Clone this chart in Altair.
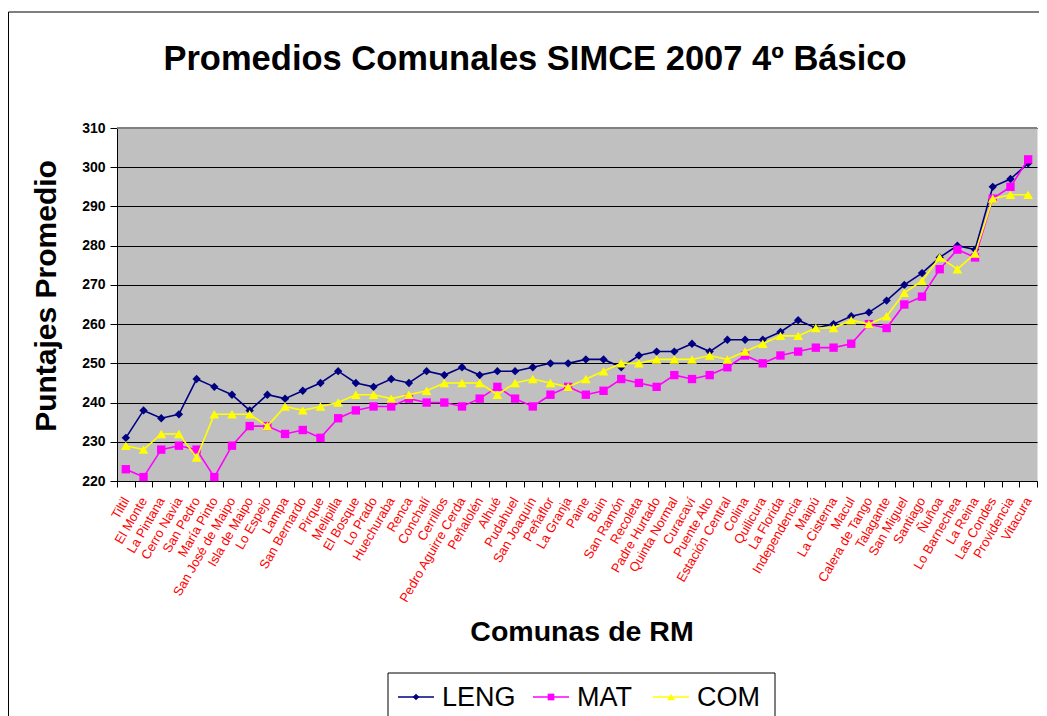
import altair as alt
import pandas as pd

comunas = ["Tiltil", "El Monte", "La Pintana", "Cerro Navia", "San Pedro", "María Pinto",
           "San José de Maipo", "Isla de Maipo", "Lo Espejo", "Lampa", "San Bernardo", "Pirque",
           "Melipilla", "El Bosque", "Lo Prado", "Huechuraba", "Renca", "Conchalí", "Cerrillos",
           "Pedro Aguirre Cerda", "Peñalolén", "Alhué", "Pudahuel", "San Joaquín", "Peñaflor",
           "La Granja", "Paine", "Buin", "San Ramón", "Recoleta", "Padre Hurtado", "Quinta Normal",
           "Curacaví", "Puente Alto", "Estación Central", "Colina", "Quilicura", "La Florida",
           "Independencia", "Maipú", "La Cisterna", "Macul", "Calera de Tango", "Talagante",
           "San Miguel", "Santiago", "Ñuñoa", "Lo Barnechea", "La Reina", "Las Condes",
           "Providencia", "Vitacura"]

leng = [231, 238, 236, 237, 246, 244, 242, 238, 242, 241,
        243, 245, 248, 245, 244, 246, 245, 248, 247, 249,
        247, 248, 248, 249, 250, 250, 251, 251, 249, 252,
        253, 253, 255, 253, 256, 256, 256, 258, 261, 259,
        260, 262, 263, 266, 270, 273, 277, 280, 279, 295,
        297, 301]
mat = [223, 221, 228, 229, 228, 221, 229, 234, 234, 232,
       233, 231, 236, 238, 239, 239, 241, 240, 240, 239,
       241, 244, 241, 239, 242, 244, 242, 243, 246, 245,
       244, 247, 246, 247, 249, 252, 250, 252, 253, 254,
       254, 255, 260, 259, 265, 267, 274, 279, 277, 292,
       295, 302]
com = [229, 228, 232, 232, 226, 237, 237, 237, 234, 239,
       238, 239, 240, 242, 242, 241, 242, 243, 245, 245,
       245, 242, 245, 246, 245, 244, 246, 248, 250, 250,
       251, 251, 251, 252, 251, 253, 255, 257, 257, 259,
       259, 261, 260, 262, 268, 271, 277, 274, 278, 292,
       293, 293]

series_names = ["LENG", "MAT", "COM"]
series_values = [leng, mat, com]
colors = ["#000080", "#FF00FF", "#FFFF00"]
shapes = ["diamond", "square", "triangle-up"]
sizes = [70, 70, 95]
y_ticks = list(range(220, 311, 10))

FONT = "Liberation Sans, Arial, sans-serif"
W, H = 920, 353

one = pd.DataFrame({"k": [0]})

xenc = alt.X("comuna:N", sort=comunas,
             scale=alt.Scale(type="band", paddingInner=0, paddingOuter=0),
             axis=alt.Axis(title=None, labelColor="#FF0000", labelFont=FONT, labelFontSize=13,
                           labelAngle=300, labelAlign="right", labelBaseline="middle",
                           labelPadding=11, labelOverlap=False, labelLimit=300,
                           tickBand="extent", tickSize=6, tickColor="#000000",
                           domainColor="#000000", grid=False))
yenc = alt.Y("valor:Q", scale=alt.Scale(domain=[220, 310], nice=False, zero=False),
             axis=alt.Axis(title=None, values=y_ticks, labelFont=FONT, labelFontSize=14,
                           labelFontWeight="bold", labelColor="#000000", labelPadding=5,
                           tickSize=7, tickColor="#000000", domainColor="#000000",
                           grid=True, gridColor="#000000", gridWidth=1, gridOpacity=1))

layers = []

# outer frame of the chart object
layers.append(alt.Chart(one).mark_rule(color="#000000", strokeWidth=1).encode(
    x=alt.value(-108.5), y=alt.value(-116), y2=alt.value(700)))
layers.append(alt.Chart(one).mark_rule(color="#000000", strokeWidth=1).encode(
    x=alt.value(-108.5), x2=alt.value(1000), y=alt.value(-116)))

for name, vals, col, shp, sz in zip(series_names, series_values, colors, shapes, sizes):
    df = pd.DataFrame({"comuna": comunas, "valor": vals})
    layers.append(alt.Chart(df).mark_line(color=col, strokeWidth=1.6).encode(x=xenc, y=yenc))
    layers.append(alt.Chart(df).mark_point(shape=shp, filled=True, color=col, size=sz,
                                           opacity=1).encode(x=xenc, y=yenc))

# top border of plot area
layers.append(alt.Chart(one).mark_rule(color="#808080", strokeWidth=2).encode(
    x=alt.value(0), x2=alt.value(W), y=alt.value(0)))

# titles
layers.append(alt.Chart(one).mark_text(text="Promedios Comunales SIMCE 2007 4º Básico",
                                       font=FONT, fontSize=34.5, fontWeight="bold",
                                       color="#000000", align="center", baseline="middle").encode(
    x=alt.value(418), y=alt.value(-68)))
layers.append(alt.Chart(one).mark_text(text="Comunas de RM", font=FONT, fontSize=28.5,
                                       fontWeight="bold", color="#000000", align="center",
                                       baseline="middle").encode(
    x=alt.value(465), y=alt.value(504)))
layers.append(alt.Chart(one).mark_text(text="Puntajes Promedio", font=FONT, fontSize=30,
                                       fontWeight="bold", color="#000000", align="center",
                                       baseline="middle", angle=270).encode(
    x=alt.value(-70), y=alt.value(168)))

# legend
LY = 569
layers.append(alt.Chart(one).mark_rect(fill="#FFFFFF", stroke="#000000", strokeWidth=1).encode(
    x=alt.value(271), x2=alt.value(658), y=alt.value(LY - 24), y2=alt.value(640)))
leg_x = [281, 416, 536]
leg_sizes = [45, 45, 60]
for name, col, shp, lx, ls in zip(series_names, colors, shapes, leg_x, leg_sizes):
    layers.append(alt.Chart(one).mark_rule(color=col, strokeWidth=1.6).encode(
        x=alt.value(lx), x2=alt.value(lx + 36), y=alt.value(LY)))
    layers.append(alt.Chart(one).mark_point(shape=shp, filled=True, color=col, size=ls,
                                            opacity=1).encode(
        x=alt.value(lx + 18), y=alt.value(LY)))
    layers.append(alt.Chart(one).mark_text(text=name, font=FONT, fontSize=27, color="#000000",
                                           align="left", baseline="middle").encode(
        x=alt.value(lx + 44), y=alt.value(LY + 1)))

chart = alt.layer(*layers).properties(
    width=W, height=H,
    autosize=alt.AutoSizeParams(type="none"),
    padding={"left": 109, "top": 120, "right": 2, "bottom": 235},
    background="#FFFFFF",
).configure_view(fill="#C0C0C0", stroke="transparent")

chart.save("out.html", embed_options={"renderer": "svg", "actions": False})
